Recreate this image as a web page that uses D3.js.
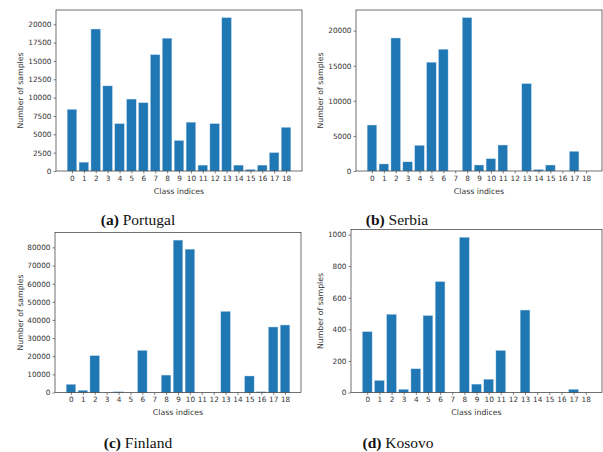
<!DOCTYPE html>
<html><head><meta charset="utf-8">
<script src="https://cdn.jsdelivr.net/npm/d3@7"></script>
<style>body{margin:0;background:#fff}svg{display:block}</style>
</head><body>
<svg id="c" width="603" height="452"></svg>
<script>
const classes = d3.range(19).map(String);
const portugal = [8400,1200,19350,11600,6450,9800,9300,15850,18100,4150,6650,800,6450,20900,800,200,800,2500,5950];
const serbia   = [6550,1000,18950,1300,3650,15500,17350,0,21850,850,1750,3700,0,12450,200,850,0,2800,0];
const finland  = [4500,1200,20300,0,400,0,23200,0,9600,84000,79000,0,0,44700,0,9100,400,36100,37200];
const kosovo   = [385,76,495,20,150,487,702,0,983,53,84,266,0,522,0,0,0,20,0];
const ticksA = [0,2500,5000,7500,10000,12500,15000,17500,20000];
const ticksB = [0,5000,10000,15000,20000];
const ticksC = [0,10000,20000,30000,40000,50000,60000,70000,80000];
const ticksD = [0,200,400,600,800,1000];
const captions = [["(a)"," Portugal"],["(b)"," Serbia"],["(c)"," Finland"],["(d)"," Kosovo"]];

const svg = d3.select("#c");
const panels = [
  {data:portugal, ticks:ticksA, box:{l:56,r:302,t:10,b:171}, ylabX:20, cap:captions[0], capX:138, capY:225},
  {data:serbia,   ticks:ticksB, box:{l:356,r:602,t:10,b:171}, ylabX:320, cap:captions[1], capX:397, capY:225},
  {data:finland,  ticks:ticksC, box:{l:55,r:301,t:232.5,b:392.5}, ylabX:20, cap:captions[2], capX:138, capY:448},
  {data:kosovo,   ticks:ticksD, box:{l:351,r:602,t:229.5,b:392.5}, ylabX:320, cap:captions[3], capX:398, capY:448}
];

panels.forEach(p => {
  const b = p.box;
  const x = d3.scaleLinear().domain([-1.34, 19.34]).range([b.l, b.r]);
  const ymax = d3.max(p.data) * 1.05;
  const y = d3.scaleLinear().domain([0, ymax]).range([b.b, b.t]);
  const g = svg.append("g");
  g.selectAll("rect").data(p.data).join("rect")
    .attr("x", (d,i) => x(i - 0.4))
    .attr("width", x(0.8) - x(0))
    .attr("y", d => y(d))
    .attr("height", d => b.b - y(d))
    .attr("fill", "#1f77b4")
    .attr("stroke", "#b9d3ea").attr("stroke-width", 0.4);
  const xa = g.append("g").attr("transform", `translate(0,${b.b})`)
    .call(d3.axisBottom(x).tickValues(d3.range(19)).tickFormat(i => classes[i]).tickSize(2.5).tickPadding(2));
  const ya = g.append("g").attr("transform", `translate(${b.l},0)`)
    .call(d3.axisLeft(y).tickValues(p.ticks).tickSize(2.5).tickPadding(2).tickFormat(d3.format("d")));
  [xa, ya].forEach(a => {
    a.select(".domain").remove();
    a.selectAll("text").attr("font-family","DejaVu Sans").attr("font-size",7.3).attr("fill","#333");
    a.selectAll("line").attr("stroke","#333").attr("stroke-width",0.6);
  });
  g.append("rect").attr("x", b.l).attr("y", b.t).attr("width", b.r - b.l).attr("height", b.b - b.t)
    .attr("fill","none").attr("stroke","#333").attr("stroke-width",0.7);
  g.append("text").attr("x", (b.l + b.r)/2).attr("y", b.b + 22.5)
    .attr("text-anchor","middle").attr("font-family","DejaVu Sans").attr("font-size",7.8).attr("fill","#333")
    .text("Class indices");
  g.append("text").attr("transform", `translate(${p.ylabX + 2.5},${(b.t + b.b)/2}) rotate(-90)`)
    .attr("text-anchor","middle").attr("font-family","DejaVu Sans").attr("font-size",7.8).attr("fill","#333")
    .text("Number of samples");
  const cap = svg.append("text").attr("x", p.capX).attr("y", p.capY).attr("text-anchor","middle")
    .attr("font-family","'Liberation Serif', serif").attr("font-size",15.5).attr("fill","#111");
  cap.append("tspan").attr("font-weight","bold").text(p.cap[0]);
  cap.append("tspan").text(p.cap[1]);
});
</script>
</body></html>
